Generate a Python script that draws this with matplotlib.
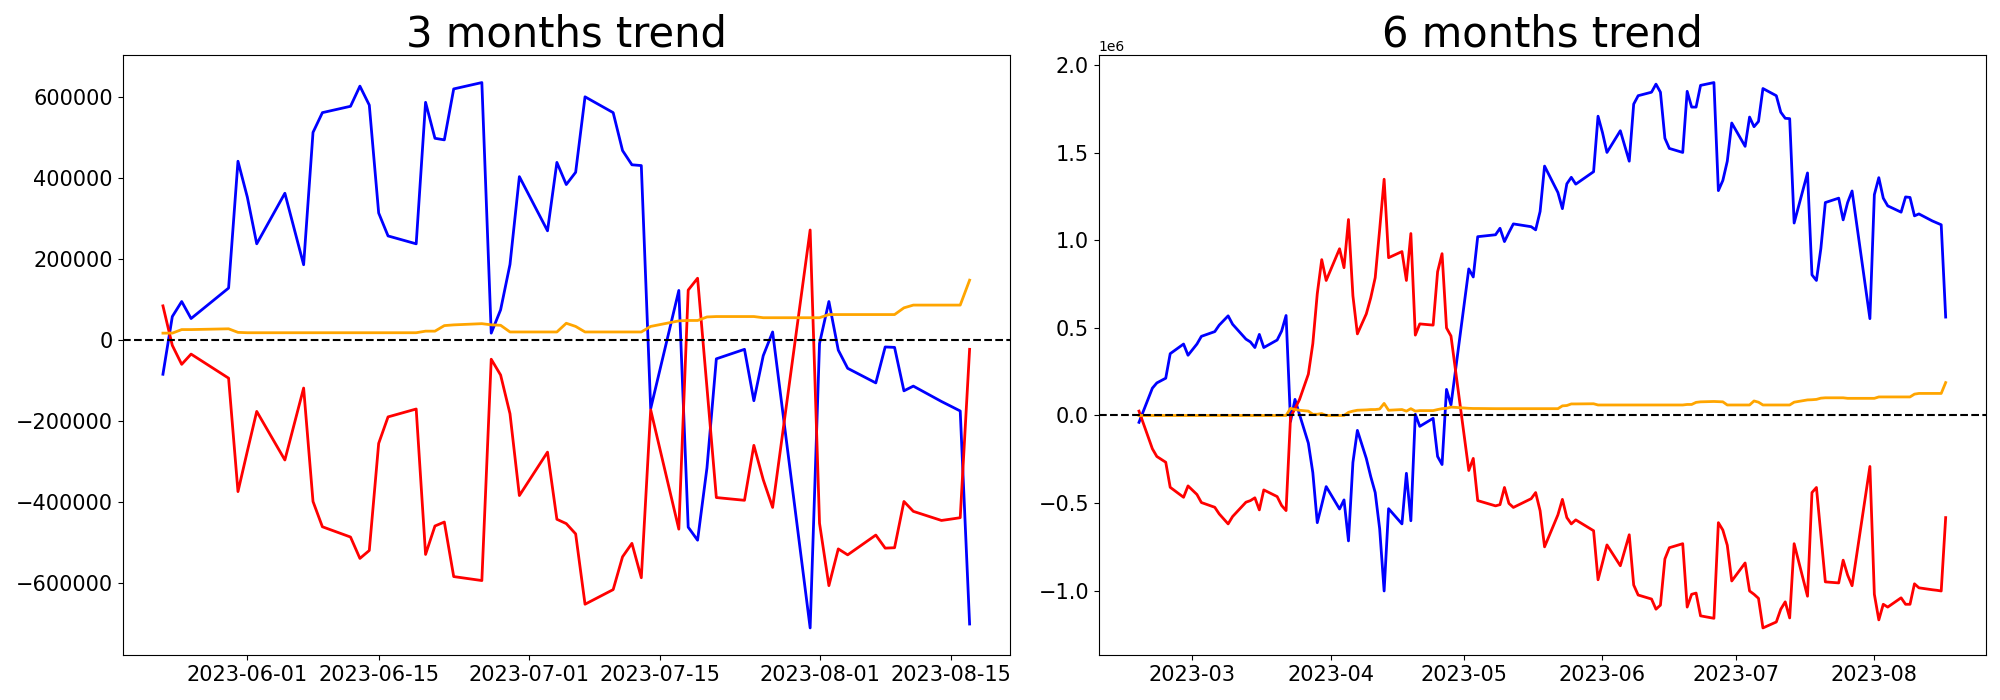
import matplotlib
matplotlib.use("Agg")
import matplotlib.pyplot as plt
import pandas as pd

# ---------------- 3 months data ----------------
dates_3m = [
    "2023-05-23", "2023-05-24", "2023-05-25", "2023-05-26", "2023-05-30", "2023-05-31",
    "2023-06-01", "2023-06-02", "2023-06-05", "2023-06-07", "2023-06-08", "2023-06-09",
    "2023-06-12", "2023-06-13", "2023-06-14", "2023-06-15", "2023-06-16", "2023-06-19",
    "2023-06-20", "2023-06-21", "2023-06-22", "2023-06-23", "2023-06-26", "2023-06-27",
    "2023-06-28", "2023-06-29", "2023-06-30",
    "2023-07-03", "2023-07-04", "2023-07-05", "2023-07-06", "2023-07-07", "2023-07-10",
    "2023-07-11", "2023-07-12", "2023-07-13", "2023-07-14", "2023-07-17", "2023-07-18",
    "2023-07-19", "2023-07-20", "2023-07-21", "2023-07-24", "2023-07-25", "2023-07-26",
    "2023-07-27", "2023-07-31",
    "2023-08-01", "2023-08-02", "2023-08-03", "2023-08-04", "2023-08-07", "2023-08-08",
    "2023-08-09", "2023-08-10", "2023-08-11", "2023-08-14", "2023-08-15", "2023-08-16",
    "2023-08-17",
]
blue_3m = [
    -85000, 57600, 94700, 52700, 128000, 441400,
    352500, 237300, 362300, 185600, 512700, 561500, 577200, 627000, 580100, 313500,
    256800, 237300, 587000, 498100, 494200, 620100, 635800, 16600, 74200, 186500, 403300,
    269500, 438500, 383800, 414100, 600600, 561500, 467800, 432600, 430700, -169900,
    122100, -462900, -495100, -316400, -46900, -23400, -150400, -39100, 19500, -711900,
    -8800, 94700, -25400, -70300, -106400, -17600, -18600, -126000, -114300, -152300,
    -164000, -175800, -702200,
]
red_3m = [
    84000, -13700, -60500, -35200, -94700, -375000,
    -275000, -176800, -296900, -119100, -399400, -461900, -487300, -540100, -520500,
    -255900, -190400, -170900, -530300, -460000, -450200, -585000, -594800, -47900,
    -86900, -182600, -384800,
    -277400, -443400, -454100, -479500, -653300, -617200, -536100, -502900, -587900,
    -172900, -467800, 123000, 152300, -118000, -389700, -396500, -260700, -345700,
    -414100, 271500,
    -453100, -607400, -516600, -531300, -482400, -514700, -513700, -399400, -423800,
    -446300, -443000, -439500, -23400,
]
orange_3m = [
    16600, 16600, 25400, 25400, 27300, 18500,
    17600, 17600, 17600, 17600, 17600, 17600, 17600, 17600, 17600, 17600, 17600, 17600,
    21500, 21500, 35200, 37000, 40000, 37100, 36000, 19500, 19500,
    19500, 19500, 41000, 33200, 19500, 19500, 19500, 19500, 19500, 33200, 46900, 47900,
    47900, 56600, 57600, 57600, 57600, 54700, 54700, 54700,
    54700, 62500, 62500, 62500, 62500, 62500, 62500, 79100, 85900, 85900, 85900, 85900,
    147500,
]

# ---------------- 6 months data (values in millions) ----------------
dates_6m_early = [
    "2023-02-17", "2023-02-20", "2023-02-21", "2023-02-23", "2023-02-24", "2023-02-27",
    "2023-02-28",
    "2023-03-02", "2023-03-03", "2023-03-06", "2023-03-07", "2023-03-09", "2023-03-10",
    "2023-03-13", "2023-03-14", "2023-03-15", "2023-03-16", "2023-03-17", "2023-03-20",
    "2023-03-21", "2023-03-22", "2023-03-23", "2023-03-24", "2023-03-25", "2023-03-27",
    "2023-03-28", "2023-03-29", "2023-03-30", "2023-03-31",
    "2023-04-03", "2023-04-04", "2023-04-05", "2023-04-06", "2023-04-07", "2023-04-09",
    "2023-04-10", "2023-04-11", "2023-04-12", "2023-04-13", "2023-04-14", "2023-04-17",
    "2023-04-18", "2023-04-19", "2023-04-20", "2023-04-21", "2023-04-24", "2023-04-25",
    "2023-04-26", "2023-04-27", "2023-04-28",
    "2023-05-02", "2023-05-03", "2023-05-04", "2023-05-08", "2023-05-09", "2023-05-10",
    "2023-05-11", "2023-05-12", "2023-05-16", "2023-05-17", "2023-05-18", "2023-05-19",
    "2023-05-22",
]
dates_6m = dates_6m_early + dates_3m

blue_6m = [
    -0.039, 0.156, 0.186, 0.213, 0.353, 0.408, 0.344,
    0.408, 0.452, 0.479, 0.516, 0.569, 0.521, 0.436, 0.420, 0.388, 0.463, 0.388, 0.431,
    0.482, 0.571, -0.034, 0.092, 0.007, -0.158, -0.326, -0.612, -0.510, -0.406,
    -0.534, -0.482, -0.716, -0.268, -0.085, -0.245, -0.349, -0.440, -0.647, -1.002,
    -0.532, -0.619, -0.330, -0.601, 0.007, -0.062, -0.016, -0.234, -0.280, 0.149, 0.060,
    0.837, 0.791, 1.021, 1.032, 1.069, 0.993, 1.045, 1.094, 1.078, 1.060, 1.165, 1.424,
    1.273,
    1.181, 1.323, 1.360, 1.321, 1.392, 1.709,
    1.615, 1.502, 1.626, 1.452, 1.778, 1.826, 1.846, 1.892, 1.846, 1.583, 1.525, 1.502,
    1.851, 1.761, 1.761, 1.885, 1.901, 1.284, 1.342, 1.452, 1.670,
    1.537, 1.704, 1.649, 1.679, 1.867, 1.826, 1.732, 1.697, 1.695, 1.099, 1.385, 0.803,
    0.771, 0.954, 1.216, 1.241, 1.117, 1.216, 1.282, 0.553,
    1.261, 1.358, 1.241, 1.197, 1.161, 1.248, 1.245, 1.140, 1.151, 1.111, 1.100, 1.089,
    0.562,
]
red_6m = [
    0.025, -0.190, -0.234, -0.267, -0.410, -0.467, -0.402,
    -0.451, -0.497, -0.524, -0.562, -0.619, -0.577, -0.495, -0.486, -0.470, -0.539,
    -0.425, -0.463, -0.514, -0.543, -0.010, 0.040, 0.090, 0.236, 0.410, 0.695, 0.890,
    0.771,
    0.952, 0.844, 1.119, 0.683, 0.466, 0.580, 0.672, 0.787, 1.062, 1.349, 0.901, 0.936,
    0.771, 1.039, 0.459, 0.523, 0.516, 0.821, 0.924, 0.500, 0.454,
    -0.314, -0.245, -0.486, -0.516, -0.509, -0.411, -0.502, -0.525, -0.475, -0.440,
    -0.544, -0.750, -0.567,
    -0.479, -0.583, -0.619, -0.596, -0.658, -0.938,
    -0.840, -0.739, -0.858, -0.681, -0.968, -1.025, -1.048, -1.106, -1.083, -0.819,
    -0.755, -0.732, -1.094, -1.021, -1.014, -1.144, -1.158, -0.612, -0.654, -0.741,
    -0.945,
    -0.842, -1.002, -1.021, -1.044, -1.213, -1.179, -1.106, -1.064, -1.156, -0.732,
    -1.032, -0.440, -0.411, -0.681, -0.950, -0.956, -0.826, -0.911, -0.972, -0.291,
    -1.021, -1.167, -1.078, -1.094, -1.041, -1.078, -1.078, -0.961, -0.984, -0.995,
    -0.998, -1.002, -0.583,
]
orange_6m = [
    0.0, 0.0, 0.0, 0.0, 0.0, 0.0, 0.0,
    0.0, 0.0, 0.0, 0.0, 0.0, 0.0, 0.0, 0.0, 0.0, 0.0, 0.0, 0.0, 0.0, 0.0,
    0.041, 0.034, 0.030, 0.025, 0.007, 0.007, 0.011, 0.0,
    0.0, 0.0, 0.018, 0.025, 0.030, 0.032, 0.034, 0.034, 0.037, 0.069, 0.030, 0.034,
    0.025, 0.039, 0.025, 0.028, 0.028, 0.034, 0.039, 0.041, 0.048,
    0.041, 0.040, 0.040, 0.039, 0.039, 0.039, 0.039, 0.039, 0.039, 0.039, 0.039, 0.039,
    0.039,
    0.055, 0.057, 0.066, 0.066, 0.067, 0.060,
    0.060, 0.060, 0.060, 0.060, 0.060, 0.060, 0.060, 0.060, 0.060, 0.060, 0.060, 0.060,
    0.063, 0.063, 0.075, 0.078, 0.080, 0.079, 0.078, 0.060, 0.060,
    0.060, 0.060, 0.083, 0.076, 0.060, 0.060, 0.060, 0.060, 0.060, 0.076, 0.089, 0.090,
    0.092, 0.099, 0.101, 0.101, 0.101, 0.098, 0.098, 0.098,
    0.098, 0.106, 0.106, 0.106, 0.106, 0.106, 0.106, 0.122, 0.126, 0.126, 0.126, 0.126,
    0.188,
]

titles = ["3 months trend", "6 months trend"]

fig, axes = plt.subplots(1, 2, figsize=(20, 7), dpi=100)
fig.subplots_adjust(left=0.0613, right=0.993, bottom=0.064, top=0.921, wspace=0.1)

series = [
    (pd.to_datetime(dates_3m), blue_3m, red_3m, orange_3m, 1.0),
    (pd.to_datetime(dates_6m), blue_6m, red_6m, orange_6m, 1e6),
]

for ax, (d, b, r, o, scale), title in zip(axes, series, titles):
    ax.plot(d, [v * scale for v in b], color="blue", linewidth=2)
    ax.plot(d, [v * scale for v in r], color="red", linewidth=2)
    ax.plot(d, [v * scale for v in o], color="orange", linewidth=2)
    ax.axhline(0, color="black", linestyle="--", linewidth=1.5)
    ax.set_title(title, fontsize=30)
    ax.tick_params(labelsize=15)

fig.savefig("out.png", dpi=100)
